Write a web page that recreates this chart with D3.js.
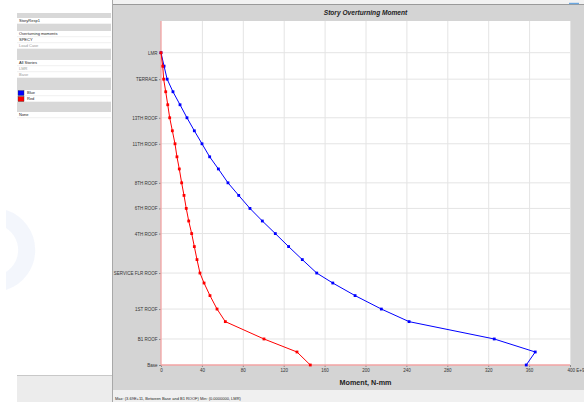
<!DOCTYPE html>
<html>
<head>
<meta charset='utf-8' />
<title>Story Overturning Moment</title>
<style>
  html, body { margin:0; padding:0; background:#fff; }
  body { width:584px; height:402px; overflow:hidden; font-family:'Liberation Sans', Arial, sans-serif; }
  .grid line { stroke:#e4e4e4; stroke-width:1; }
  .axis text { font-size:4.5px; fill:#333; font-family:'Liberation Sans', Arial, sans-serif; }
  .axis path { display:none; }
  .axis line { stroke:#555; stroke-width:0.6; }
  .panel-text { font-size:4px; fill:#222; }
  .panel-text.off { fill:#999; }
</style>
</head>
<body>
<svg id="chart" width="584" height="402"></svg>
<script src="https://cdn.jsdelivr.net/npm/d3@7"></script>
<script>
  // story levels, bottom to top (elevation in m)
  const stories = ['Base', 'B2 ROOF', 'B1 ROOF', 'GF ROOF', '1ST ROOF', 'MEZZ ROOF', 'PODIUM ROOF',
    'SERVICE FLR ROOF', '2ND ROOF', '3RD ROOF', '4TH ROOF', '5TH ROOF', '6TH ROOF', '7TH ROOF',
    '8TH ROOF', '9TH ROOF', '10TH ROOF', '11TH ROOF', '12TH ROOF', '13TH ROOF', '14TH ROOF',
    '15TH ROOF', 'TERRACE', 'MUMTY', 'LMR']
  const elevations = [0, 3, 6, 10, 12.9, 16, 18.9, 21.2, 24.3, 27.3, 30.3, 33.2, 36.1, 39.1,
    42, 45.2, 48, 51, 54, 57, 60, 63, 65.9, 68.9, 72]
  // overturning moment, E+9 N-mm
  const blueMoment = [357.2, 366, 325.9, 242.6, 215.5, 189.8, 168, 152.3, 138.2, 124.8, 111.8, 99.1,
    87, 76, 65.5, 56.1, 47.6, 40.1, 32.6, 25.4, 18.6, 11.7, 6, 3, 0]
  const redMoment = [146, 133, 100.7, 62.9, 54.8, 47.9, 42.1, 38.1, 35.2, 32.6, 30, 27.1,
    24.7, 22.5, 20.2, 17.9, 15.6, 13.7, 11.1, 8.5, 6.6, 4.6, 2.6, 1.7, 0]
  const labelledStories = ['LMR', 'TERRACE', '13TH ROOF', '11TH ROOF', '8TH ROOF', '6TH ROOF',
    '4TH ROOF', 'SERVICE FLR ROOF', '1ST ROOF', 'B1 ROOF', 'Base']
  const xTicks = [0, 40, 80, 120, 160, 200, 240, 280, 320, 360, 400]

  // option panel groups, each under a grey header band
  const optionGroups = [
    ['StoryResp1'],
    ['Overturning moments', 'SPECY', 'Load Case'],
    ['All Stories', 'LMR', 'Base'],
    ['Blue', 'Red'],
    ['None']
  ]
  const bandHeights = [5, 7, 11, 12, 10]
  const disabledRows = ['Load Case', 'LMR', 'Base']
  const legendColors = { Blue: '#0000ff', Red: '#ff0000' }

  const svg = d3.select('#chart')

  // ---- window chrome ----
  svg.append('rect').attr('x', 113).attr('y', 0).attr('width', 471).attr('height', 4).attr('fill', '#f2f2f2')
  svg.append('rect').attr('x', 113).attr('y', 4).attr('width', 471).attr('height', 386).attr('fill', '#d4d4d4')
  svg.append('line').attr('x1', 113).attr('x2', 584).attr('y1', 4.5).attr('y2', 4.5).attr('stroke', '#9a9a9a')
  svg.append('line').attr('x1', 569).attr('x2', 579).attr('y1', 3.5).attr('y2', 3.5).attr('stroke', '#6aa7e0').attr('stroke-width', 1.4)
  svg.append('rect').attr('x', 113).attr('y', 390).attr('width', 471).attr('height', 12).attr('fill', '#f0f0f0')
  svg.append('line').attr('x1', 112.5).attr('x2', 112.5).attr('y1', 0).attr('y2', 402).attr('stroke', '#a8a8a8')
  svg.append('rect').attr('x', 17).attr('y', 375).attr('width', 95).attr('height', 27).attr('fill', '#ececec')
  svg.append('line').attr('x1', 17).attr('x2', 112).attr('y1', 375.5).attr('y2', 375.5).attr('stroke', '#c8c8c8')

  svg.append('text')
    .attr('x', 115).attr('y', 400)
    .attr('font-size', 4).attr('fill', '#222')
    .text('Max: (3.69E+11, Between Base and B1 ROOF)   Min: (0.0000000, LMR)')

  // faint watermark
  svg.append('path')
    .attr('d', 'M 6 210 A 42 42 0 0 1 6 290 L 6 272 A 26 26 0 0 0 6 228 Z')
    .attr('fill', '#9fb8e6').attr('opacity', 0.12)

  // ---- left options panel ----
  let yPos = 13
  optionGroups.forEach((group, gi) => {
    svg.append('rect').attr('x', 17).attr('y', yPos).attr('width', 94).attr('height', bandHeights[gi]).attr('fill', '#d8d8d8')
    yPos += bandHeights[gi]
    group.forEach((name) => {
      svg.append('line').attr('x1', 17).attr('x2', 111).attr('y1', yPos + 5.7).attr('y2', yPos + 5.7).attr('stroke', '#e6e6e6').attr('stroke-width', 0.6)
      let tx = 19
      if (legendColors[name]) {
        svg.append('rect').attr('x', 18).attr('y', yPos + 0.5).attr('width', 6).attr('height', 5)
          .attr('fill', legendColors[name]).attr('stroke', '#333').attr('stroke-width', 0.4)
        tx = 27
      }
      svg.append('text')
        .attr('class', 'panel-text' + (disabledRows.includes(name) && gi > 0 ? ' off' : ''))
        .attr('x', tx).attr('y', yPos + 4.3)
        .text(name)
      yPos += 6
    })
  })

  // ---- chart ----
  const plot = { left: 161, right: 570, top: 21, bottom: 365 }

  svg.append('rect').attr('x', plot.left).attr('y', plot.top)
    .attr('width', plot.right - plot.left).attr('height', plot.bottom - plot.top).attr('fill', '#fff')

  const x = d3.scaleLinear().domain([0, 400]).range([plot.left, plot.right])
  const y = d3.scaleLinear().domain([0, 79.31]).range([plot.bottom, plot.top])

  const elevOf = (name) => elevations[stories.indexOf(name)]

  // grid
  const grid = svg.append('g').attr('class', 'grid')
  grid.selectAll('.vg').data(xTicks.slice(1)).enter().append('line')
    .attr('x1', d => x(d) + 0.5).attr('x2', d => x(d) + 0.5)
    .attr('y1', plot.top).attr('y2', plot.bottom)
  grid.selectAll('.hg').data(labelledStories.slice(0, -1)).enter().append('line')
    .attr('x1', plot.left).attr('x2', plot.right)
    .attr('y1', d => y(elevOf(d))).attr('y2', d => y(elevOf(d)))

  // axes
  const xAxis = d3.axisBottom(x).tickValues(xTicks).tickSize(2).tickPadding(2)
    .tickFormat(d => d === 400 ? '400 E+9' : d)
  const gx = svg.append('g').attr('class', 'axis')
    .attr('transform', `translate(0,${plot.bottom})`).call(xAxis)
  gx.selectAll('.tick').filter(d => d === 400).select('text')
    .attr('text-anchor', 'start').attr('dx', -3)

  const yAxis = d3.axisLeft(y)
    .tickValues(labelledStories.map(elevOf))
    .tickFormat(d => stories[elevations.indexOf(d)])
    .tickSize(2).tickPadding(1.5)
  svg.append('g').attr('class', 'axis')
    .attr('transform', `translate(${plot.left},0)`).call(yAxis)

  // axis lines
  svg.append('line').attr('x1', plot.left).attr('x2', plot.left).attr('y1', plot.top).attr('y2', plot.bottom)
    .attr('stroke', '#f3a3a3').attr('stroke-width', 1.3)
  svg.append('line').attr('x1', plot.left).attr('x2', plot.right).attr('y1', plot.bottom).attr('y2', plot.bottom)
    .attr('stroke', '#f3a3a3').attr('stroke-width', 1.3)

  // titles
  svg.append('text')
    .attr('x', (plot.left + plot.right) / 2).attr('y', 15)
    .attr('text-anchor', 'middle').attr('font-size', 6.6)
    .attr('font-weight', 'bold').attr('font-style', 'italic').attr('fill', '#222')
    .text('Story Overturning Moment')
  svg.append('text')
    .attr('x', (plot.left + plot.right) / 2).attr('y', 385)
    .attr('text-anchor', 'middle').attr('font-size', 7.2)
    .attr('font-weight', 'bold').attr('fill', '#222')
    .text('Moment, N-mm')

  // series
  const series = [
    { name: 'Blue', color: '#0000ff', values: blueMoment },
    { name: 'Red', color: '#ff0000', values: redMoment }
  ]
  const line = d3.line().x(d => x(d.m)).y(d => y(d.e))

  series.forEach((s) => {
    const pts = s.values.map((m, i) => ({ m, e: elevations[i] }))
    svg.append('path').datum(pts)
      .attr('d', line).attr('fill', 'none')
      .attr('stroke', s.color).attr('stroke-width', 1)
    svg.append('g').selectAll('rect').data(pts).enter().append('rect')
      .attr('x', d => x(d.m) - 1.4).attr('y', d => y(d.e) - 1.4)
      .attr('width', 2.8).attr('height', 2.8)
      .attr('fill', s.color)
  })
</script>
</body>
</html>
